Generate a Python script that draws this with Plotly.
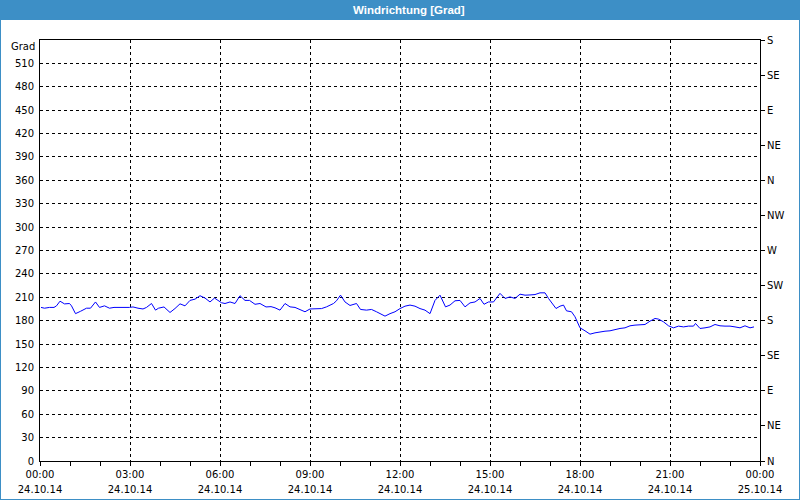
import pandas as pd
import plotly.graph_objects as go

# ---- data ----
minutes = [2, 9, 19, 28, 33, 40, 49, 59, 63, 71,
           81, 93, 101, 111, 119, 129, 139, 148, 179, 186,
           196, 206, 213, 223, 231, 237, 248, 260, 270, 280,
           290, 300, 310, 320, 330, 340, 349, 357, 363, 370,
           380, 390, 400, 410, 419, 430, 440, 452, 462, 470,
           480, 490, 500, 510, 520, 530, 540, 550, 563, 573,
           587, 593, 601, 610, 620, 633, 641, 653, 663, 673,
           680, 690, 700, 710, 720, 730, 740, 750, 760, 770,
           780, 790, 800, 811, 820, 830, 840, 850, 860, 870,
           880, 888, 897, 907, 920, 930, 940, 950, 960, 970,
           980, 990, 1000, 1010, 1017, 1023, 1032, 1040, 1047, 1053,
           1063, 1070, 1080, 1090, 1100, 1110, 1120, 1130, 1140, 1150,
           1160, 1170, 1180, 1190, 1200, 1210, 1220, 1230, 1237, 1247,
           1257, 1267, 1277, 1287, 1297, 1307, 1311, 1320, 1330, 1340,
           1350, 1360, 1370, 1380, 1390, 1400, 1410, 1420, 1428]
direction = [197, 196, 197, 197, 199, 205, 201.5, 202, 199, 189,
             192, 196, 196, 204, 197, 199, 196, 197, 197, 197.6,
             196, 195, 197, 202, 193.5, 196, 197.6, 190.5, 195.6, 201.6,
             199, 206, 207.6, 212, 209, 204, 209, 206, 203, 202,
             204, 202, 212, 206, 206, 201, 202, 197.6, 198, 196.5,
             193.5, 202, 197.7, 197, 194.4, 191.4, 195, 195.5, 195.5, 197.7,
             202, 205.5, 212.7, 204, 199.5, 202, 194.4, 193.5, 194.4, 191.4,
             189, 185.8, 189, 191.4, 195.5, 198.6, 200, 198.6, 195.5, 193.5,
             189, 206, 212.7, 197.7, 200, 205.5, 206, 197.7, 202.8, 204,
             208.5, 201, 204, 204, 215, 208.5, 210.5, 208.5, 214, 212.7,
             213, 213.5, 215.7, 215.7, 208.5, 202.8, 195.6, 198.6, 200, 192.6,
             191.4, 185, 170.8, 167, 162.7, 164.4, 165.7, 166.5, 167, 168.7,
             170, 170.8, 173.4, 174.3, 175.1, 175.1, 179.4, 182.8, 182, 178.5,
             173.4, 170.8, 173, 172, 173, 173, 176.4, 170, 170.8, 172,
             175.1, 173.4, 173, 173, 172, 170.8, 173.4, 170.8, 172]

left_ticks = [0, 30, 60, 90, 120, 150, 180, 210, 240, 270, 300, 330,
              360, 390, 420, 450, 480, 510]
compass_vals = [0, 45, 90, 135, 180, 225, 270, 315, 360, 405, 450, 495, 540]
compass_text = ["N", "NE", "E", "SE", "S", "SW", "W", "NW",
                "N", "NE", "E", "SE", "S"]
start_day = "2014-10-24"
end_day = "2014-10-25"
title_text = "Windrichtung [Grad]"
unit_text = "Grad"

times = pd.Timestamp(start_day) + pd.to_timedelta(minutes, unit="min")

BLUE = "#3d8fc6"
FONT = "DejaVu Sans"

fig = go.Figure()
fig.add_trace(go.Scatter(x=times, y=direction, mode="lines",
                         line=dict(color="#0000ff", width=1),
                         hoverinfo="skip", showlegend=False))
# helper trace so the compass axis and the date axis get drawn
fig.add_trace(go.Scatter(x=[times[0]], y=[None], xaxis="x2", yaxis="y2",
                         mode="lines", hoverinfo="skip", showlegend=False))

L, R, T, B = 40, 40, 40, 39
W, H = 800, 500
pw, ph = W - L - R, H - T - B


def px(x):
    return (x - L) / pw


def py(y):
    return (H - B - y) / ph


common_x = dict(type="date", range=[start_day, end_day],
                dtick=3 * 3600000, tick0=start_day,
                zeroline=False, fixedrange=True, automargin=False)

fig.update_layout(
    width=W, height=H,
    margin=dict(l=L, r=R, t=T, b=B, pad=0, autoexpand=False),
    paper_bgcolor="white", plot_bgcolor="white",
    font=dict(family=FONT, size=10, color="black"),
    xaxis=dict(**common_x, tickformat="%H:%M",
               showgrid=True, gridcolor="black", griddash="3px,3px", gridwidth=1,
               showline=True, linecolor="black", linewidth=1, mirror=True,
               ticks="outside", ticklen=4, tickcolor="black",
               minor=dict(dtick=3600000, ticks="outside", ticklen=4,
                          tickcolor="black", showgrid=False)),
    xaxis2=dict(**common_x, tickformat="%d.%m.%y", overlaying="x",
                side="bottom", anchor="y", showgrid=False, showline=False,
                ticks="", ticklabelstandoff=21),
    yaxis=dict(range=[0, 540], tickvals=left_ticks,
               showgrid=True, gridcolor="black", griddash="3px,3px", gridwidth=1,
               showline=True, linecolor="black", linewidth=1,
               ticks="", ticklabelstandoff=3, zeroline=False, fixedrange=True,
               automargin=False),
    yaxis2=dict(range=[0, 540], overlaying="y", side="right",
                tickvals=compass_vals, ticktext=compass_text,
                showgrid=False, showline=True, linecolor="black", linewidth=1,
                ticks="outside", ticklen=4, tickcolor="black",
                zeroline=False, fixedrange=True, automargin=False),
    shapes=[
        dict(type="rect", xref="paper", yref="paper",
             x0=px(0), x1=px(W), y0=py(0), y1=py(20),
             fillcolor=BLUE, line=dict(width=0), layer="above"),
        dict(type="rect", xref="paper", yref="paper",
             x0=px(0), x1=px(W), y0=py(H), y1=py(0),
             fillcolor="rgba(0,0,0,0)", line=dict(color=BLUE, width=2),
             layer="above"),
    ],
    annotations=[
        dict(text="<b>" + title_text + "</b>", xref="paper", yref="paper",
             x=px(409), y=py(10), xanchor="center", yanchor="middle",
             showarrow=False, font=dict(family="Liberation Sans", size=11.5,
                                        color="white")),
        dict(text=unit_text, xref="paper", yref="paper",
             x=px(37), y=py(46), xanchor="right", yanchor="middle",
             showarrow=False, font=dict(family=FONT, size=10, color="black")),
    ],
)

fig.write_html("out.html", config={"displayModeBar": False})
